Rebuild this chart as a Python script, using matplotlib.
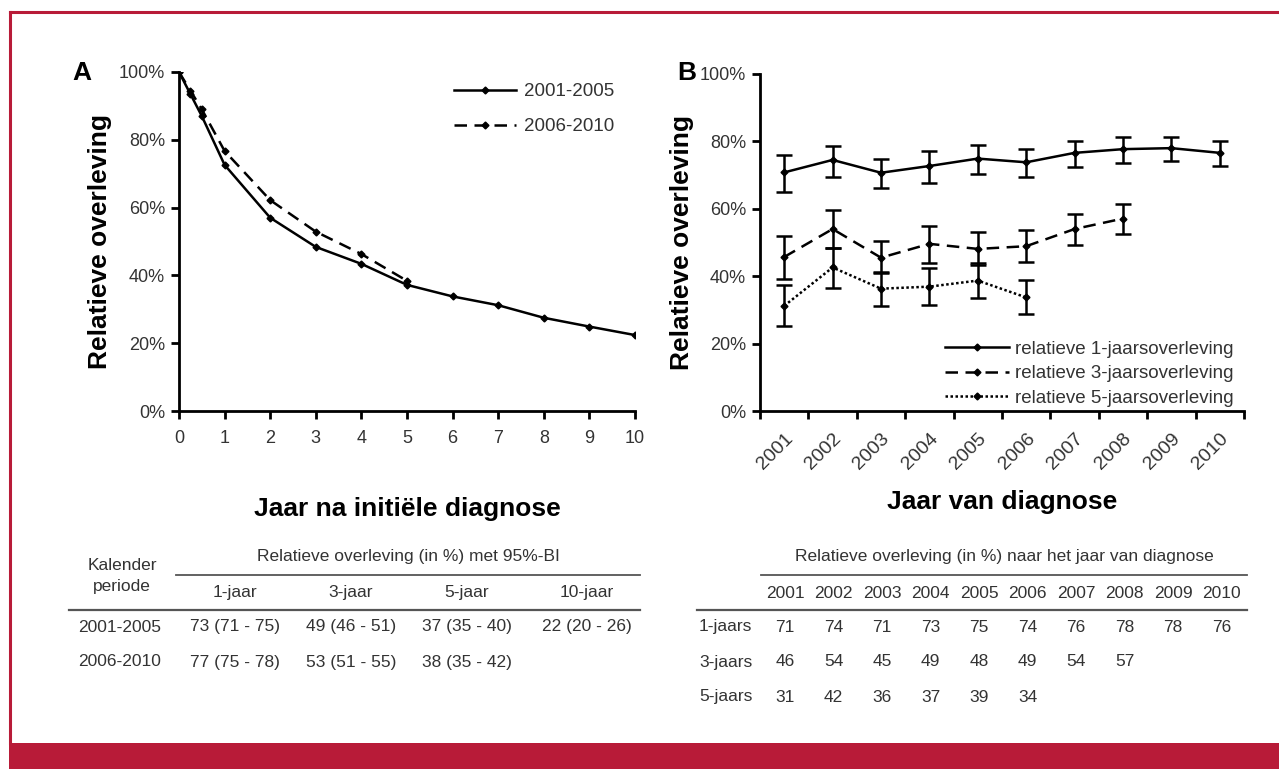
import matplotlib
matplotlib.use("Agg")
import matplotlib.pyplot as plt
from matplotlib.lines import Line2D
from matplotlib.patches import Rectangle
from matplotlib.ticker import FuncFormatter

plt.rcParams["font.family"] = ["Liberation Sans", "DejaVu Sans"]

W, H = 1279, 769
RED = "#B81B38"
GREY = "#333333"

# panel A: relative survival by years since diagnosis
years_a = [0, 0.25, 0.5, 1, 2, 3, 4, 5, 6, 7, 8, 9, 10]
surv_0105 = [100, 93.5, 87.0, 72.6, 57.0, 48.4, 43.4, 37.2, 33.8, 31.2, 27.5, 24.9, 22.4]
years_b6 = [0, 0.25, 0.5, 1, 2, 3, 4, 5]
surv_0610 = [100, 94.5, 89.0, 76.7, 62.2, 52.9, 46.3, 38.4]
labels_a = ["2001-2005", "2006-2010"]

# panel B: relative survival by year of diagnosis, with 95% CI
diag_years = ["2001", "2002", "2003", "2004", "2005", "2006", "2007", "2008", "2009", "2010"]
one_mean = [70.8, 74.5, 70.7, 72.7, 74.9, 73.8, 76.6, 77.7, 78.0, 76.6]
one_lo = [64.9, 69.3, 66.1, 67.8, 70.3, 69.3, 72.3, 73.7, 74.3, 72.7]
one_hi = [75.9, 78.7, 74.9, 77.2, 79.0, 77.7, 80.1, 81.2, 81.4, 80.1]
three_mean = [45.7, 54.0, 45.5, 49.6, 48.1, 48.9, 54.0, 57.1]
three_lo = [39.3, 48.3, 40.9, 44.0, 43.3, 44.1, 49.3, 52.5]
three_hi = [51.8, 59.5, 50.4, 54.9, 53.1, 53.7, 58.5, 61.5]
five_mean = [31.2, 42.6, 36.3, 36.9, 38.7, 33.7]
five_lo = [25.2, 36.5, 31.2, 31.5, 33.4, 28.9]
five_hi = [37.4, 48.3, 41.3, 42.3, 44.0, 38.8]
labels_b = ["relatieve 1-jaarsoverleving", "relatieve 3-jaarsoverleving",
            "relatieve 5-jaarsoverleving"]

# tables
tab_a_cols = ["1-jaar", "3-jaar", "5-jaar", "10-jaar"]
tab_a_rows = ["2001-2005", "2006-2010"]
tab_a_vals = [["73 (71 - 75)", "49 (46 - 51)", "37 (35 - 40)", "22 (20 - 26)"],
              ["77 (75 - 78)", "53 (51 - 55)", "38 (35 - 42)", ""]]
tab_b_rows = ["1-jaars", "3-jaars", "5-jaars"]
tab_b_vals = [[71, 74, 71, 73, 75, 74, 76, 78, 78, 76],
              [46, 54, 45, 49, 48, 49, 54, 57],
              [31, 42, 36, 37, 39, 34]]


def fx(x):
    return x / W


def fy(y):
    return 1 - y / H


fig = plt.figure(figsize=(W / 100, H / 100), dpi=100)

# frame: thin red line top/left, solid band at the bottom
fig.add_artist(Line2D([fx(10), 1], [fy(12), fy(12)], color=RED, lw=2.2))
fig.add_artist(Line2D([fx(10), fx(10)], [fy(12), fy(743)], color=RED, lw=2.2))
fig.add_artist(Rectangle((fx(9), 0), 1, fy(743), color=RED, lw=0))

pct = FuncFormatter(lambda v, p: f"{v:.0f}%")


def style_axes(ax):
    for s in ("top", "right"):
        ax.spines[s].set_visible(False)
    for s in ("left", "bottom"):
        ax.spines[s].set_linewidth(2)
    ax.set_ylim(0, 100)
    ax.set_yticks(range(0, 101, 20))
    ax.yaxis.set_major_formatter(pct)
    ax.tick_params(axis="y", length=6, width=2, labelsize=13, labelcolor=GREY, pad=4)


# ---- panel A
axa = fig.add_axes([fx(179), fy(411), fx(635 - 179), (411 - 72) / H])
style_axes(axa)
mk = dict(marker="D", markersize=3.5, color="black", lw=1.8)
axa.plot(years_a, surv_0105, linestyle="-", label=labels_a[0], **mk)
axa.plot(years_b6, surv_0610, linestyle=(0, (5, 3)), label=labels_a[1], **mk)
axa.set_xlim(0, 10)
axa.set_xticks(range(0, 11))
axa.tick_params(axis="x", length=6, width=2, labelsize=13, labelcolor=GREY, pad=8)
axa.set_xlabel("Jaar na initiële diagnose", fontsize=19, fontweight="bold", labelpad=36)
axa.set_ylabel("Relatieve overleving", fontsize=19, fontweight="bold", labelpad=5)
axa.legend(loc="upper left", bbox_to_anchor=(fx(445), fy(74)), bbox_transform=fig.transFigure,
           frameon=False, fontsize=13.5, handlelength=3.3, labelspacing=0.95,
           borderpad=0, handletextpad=0.4, labelcolor=GREY)
fig.text(fx(82), fy(73), "A", fontsize=19, fontweight="bold", ha="center", va="center")

# ---- panel B
axb = fig.add_axes([fx(760), fy(411), fx(1244 - 760), (411 - 74) / H])
style_axes(axb)
eb = dict(marker="D", markersize=3.5, color="black", lw=1.8, capsize=6,
          elinewidth=1.8, capthick=1.8)
x1 = list(range(len(one_mean)))
x3 = list(range(len(three_mean)))
x5 = list(range(len(five_mean)))
axb.errorbar(x1, one_mean,
             yerr=[[m - l for m, l in zip(one_mean, one_lo)],
                   [h - m for m, h in zip(one_mean, one_hi)]],
             linestyle="-", label=labels_b[0], **eb)
axb.errorbar(x3, three_mean,
             yerr=[[m - l for m, l in zip(three_mean, three_lo)],
                   [h - m for m, h in zip(three_mean, three_hi)]],
             linestyle=(0, (5, 3)), label=labels_b[1], **eb)
axb.errorbar(x5, five_mean,
             yerr=[[m - l for m, l in zip(five_mean, five_lo)],
                   [h - m for m, h in zip(five_mean, five_hi)]],
             linestyle=(0, (1, 1)), label=labels_b[2], **eb)
axb.set_xlim(-0.5, len(diag_years) - 0.5)
axb.set_xticks(x1)
axb.set_xticklabels(diag_years, rotation=45, ha="right", rotation_mode="anchor")
axb.set_xticks([i - 0.5 for i in range(len(diag_years) + 1)], minor=True)
axb.tick_params(axis="x", which="major", length=0, labelsize=14, labelcolor=GREY, pad=14)
axb.tick_params(axis="x", which="minor", length=6, width=2)
axb.set_xlabel("Jaar van diagnose", fontsize=19, fontweight="bold", labelpad=12)
axb.set_ylabel("Relatieve overleving", fontsize=19, fontweight="bold", labelpad=4)
handles = [Line2D([], [], color="black", lw=1.8, marker="D", markersize=3.5, linestyle=ls)
           for ls in ["-", (0, (5, 3)), (0, (1, 1))]]
axb.legend(handles, labels_b, loc="upper left", bbox_to_anchor=(fx(936), fy(331)),
           bbox_transform=fig.transFigure, frameon=False, fontsize=13.5, handlelength=3.4,
           labelspacing=0.4, borderpad=0, handletextpad=0.3, labelcolor=GREY)
fig.text(fx(687), fy(73), "B", fontsize=19, fontweight="bold", ha="center", va="center")

# ---- table A
tk = dict(fontsize=12.5, color=GREY, ha="center", va="center")
fig.text(fx(122), fy(565), "Kalender", **tk)
fig.text(fx(122), fy(586), "periode", **tk)
fig.text(fx(408), fy(557), "Relatieve overleving (in %) met 95%-BI", **tk)
fig.add_artist(Line2D([fx(176), fx(640)], [fy(575), fy(575)], color="#555555", lw=1.3))
col_a = [235, 351, 467, 587]
for c, lab in zip(col_a, tab_a_cols):
    fig.text(fx(c), fy(593), lab, **tk)
fig.add_artist(Line2D([fx(69), fx(640)], [fy(610), fy(610)], color="#555555", lw=1.6))
for r, (name, vals) in enumerate(zip(tab_a_rows, tab_a_vals)):
    yy = 627 + r * 35
    fig.text(fx(120), fy(yy), name, **tk)
    for c, v in zip(col_a, vals):
        fig.text(fx(c), fy(yy), v, **tk)

# ---- table B
fig.text(fx(1004), fy(557), "Relatieve overleving (in %) naar het jaar van diagnose", **tk)
fig.add_artist(Line2D([fx(761), fx(1247)], [fy(575), fy(575)], color="#555555", lw=1.3))
col_b = [785 + i * 48.5 for i in range(len(diag_years))]
for c, yr in zip(col_b, diag_years):
    fig.text(fx(c), fy(593), yr, **tk)
fig.add_artist(Line2D([fx(697), fx(1247)], [fy(610), fy(610)], color="#555555", lw=1.6))
for r, (name, vals) in enumerate(zip(tab_b_rows, tab_b_vals)):
    yy = 627 + r * 35
    fig.text(fx(699), fy(yy), name, fontsize=12.5, color=GREY, ha="left", va="center")
    for c, v in zip(col_b, vals):
        fig.text(fx(c), fy(yy), str(v), **tk)

fig.savefig("out.png", dpi=100)
